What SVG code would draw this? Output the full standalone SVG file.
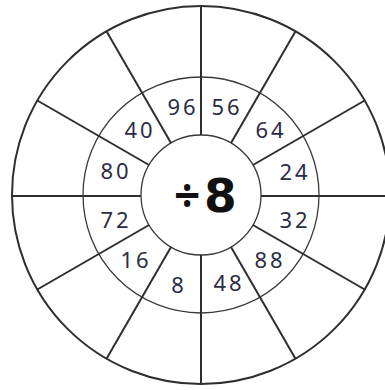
<svg xmlns="http://www.w3.org/2000/svg" width="385" height="390" viewBox="0 0 385 390">
<style>
.ring{fill:none;stroke:#3a3a3a;stroke-width:1.3}
.outer{fill:none;stroke:#2e2e2e;stroke-width:2}
.spoke{stroke:#2e2e2e;stroke-width:2;stroke-linecap:butt}
.num{font-family:"Noto Sans","Open Sans",sans-serif;font-size:22px;fill:#2a2d45;text-anchor:middle;letter-spacing:3px}
.op{font-family:"Noto Sans","Open Sans",sans-serif;font-size:46px;font-weight:bold;fill:#111}
.op8{font-family:"DejaVu Sans","Noto Sans",sans-serif;font-size:47px;font-weight:bold;fill:#111}
</style>
<rect width="385" height="390" fill="#fff"/>
<g id="circles">
<circle class="outer" cx="201" cy="195" r="189"/>
<circle class="ring" cx="201" cy="195" r="118"/>
<circle class="ring" cx="201" cy="195" r="60"/>
</g>
<g id="connectors">
<line class="spoke" x1="201" y1="135" x2="201" y2="6"/>
<line class="spoke" x1="231" y1="143.04" x2="295.5" y2="31.32"/>
<line class="spoke" x1="252.96" y1="165" x2="364.68" y2="100.5"/>
<line class="spoke" x1="261" y1="196" x2="390" y2="196"/>
<line class="spoke" x1="252.96" y1="225" x2="364.68" y2="289.5"/>
<line class="spoke" x1="231" y1="246.96" x2="295.5" y2="358.68"/>
<line class="spoke" x1="201" y1="255" x2="201" y2="384"/>
<line class="spoke" x1="171" y1="246.96" x2="106.5" y2="358.68"/>
<line class="spoke" x1="149.04" y1="225" x2="37.32" y2="289.5"/>
<line class="spoke" x1="141" y1="196" x2="12" y2="196"/>
<line class="spoke" x1="149.04" y1="165" x2="37.32" y2="100.5"/>
<line class="spoke" x1="171" y1="143.04" x2="106.5" y2="31.32"/>
</g>
<g id="center"><text x="174" y="212"><tspan class="op">÷</tspan><tspan class="op8" x="204">8</tspan></text></g>
<g id="n96"><text class="num" x="183" y="115">96</text></g>
<g id="n56"><text class="num" x="227" y="115">56</text></g>
<g id="n64"><text class="num" x="271" y="138">64</text></g>
<g id="n24"><text class="num" x="295" y="180">24</text></g>
<g id="n32"><text class="num" x="295" y="228">32</text></g>
<g id="n88"><text class="num" x="270" y="268">88</text></g>
<g id="n48"><text class="num" x="229" y="291">48</text></g>
<g id="n8"><text class="num" x="179" y="293">8</text></g>
<g id="n16"><text class="num" x="136" y="268">16</text></g>
<g id="n72"><text class="num" x="116" y="228">72</text></g>
<g id="n80"><text class="num" x="116" y="179">80</text></g>
<g id="n40"><text class="num" x="140" y="138">40</text></g>
</svg>
